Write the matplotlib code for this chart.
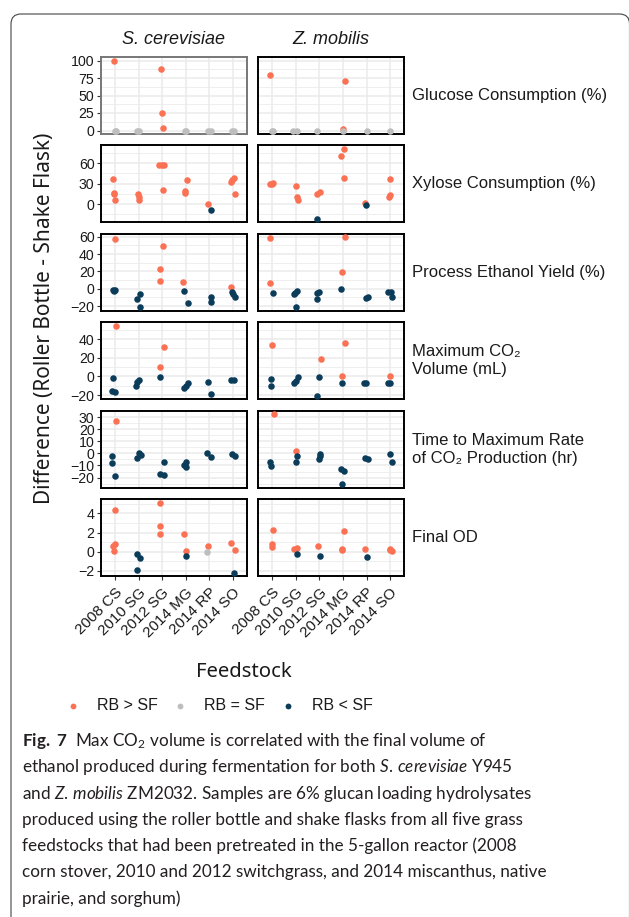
import matplotlib
matplotlib.use("Agg")
import matplotlib.pyplot as plt
from matplotlib.patches import FancyBboxPatch
from matplotlib.lines import Line2D
from matplotlib.ticker import FixedLocator

# ---------------------------------------------------------------- data
FEEDSTOCKS = ["2008 CS", "2010 SG", "2012 SG", "2014 MG", "2014 RP", "2014 SO"]
ORGANISMS = ["S. cerevisiae", "Z. mobilis"]
METRICS = ["Glucose Consumption (%)", "Xylose Consumption (%)",
           "Process Ethanol Yield (%)", "Maximum CO\u2082\nVolume (mL)",
           "Time to Maximum Rate\nof CO\u2082 Production (hr)", "Final OD"]
Y_TICKS = [[0, 25, 50, 75, 100], [0, 30, 60], [-20, 0, 20, 40, 60],
           [-20, 0, 20, 40], [-20, -10, 0, 10, 20, 30], [-2, 0, 2, 4]]
CLASS_ORDER = [">", "=", "<"]
CLASS_LABELS = {">": "RB > SF", "=": "RB = SF", "<": "RB < SF"}
CLASS_COLORS = {">": "#FB7153", "=": "#BEBEBE", "<": "#0B3C5A"}

# points: (feedstock number 1-6, difference RB - SF, class, horizontal jitter)
GLU_SC = [(1, 100, ">", -0.03), (1, 0, "=", 0.03), (1, 0, "=", 0.0),
          (2, 0, "=", -0.05), (2, 0, "=", 0.0),
          (3, 88.4, ">", -0.04), (3, 24.6, ">", 0.0), (3, 4.0, ">", 0.03),
          (4, 0, "=", -0.04), (4, 0, "=", 0.0),
          (5, 0, "=", -0.05), (5, 0, "=", 0.08),
          (6, 0, "=", -0.06), (6, 0, "=", 0.04)]
GLU_ZM = [(1, 78.7, ">", -0.07), (1, 0, "=", 0.0), (1, 0, "=", 0.02),
          (2, 0, "=", -0.1), (2, 0, "=", 0.05),
          (3, 0, "=", -0.08),
          (4, 71.0, ">", 0.07), (4, 1.5, ">", 0.0), (4, 0, "=", 0.0),
          (5, 0, "=", 0.0), (6, 0, "=", -0.03)]
XYL_SC = [(1, 37, ">", -0.07), (1, 17, ">", -0.05), (1, 15, ">", -0.02), (1, 5.5, ">", 0.0),
          (2, 15, ">", -0.01), (2, 11, ">", 0.0), (2, 6, ">", 0.02),
          (3, 57, ">", -0.13), (3, 57.5, ">", -0.02), (3, 57, ">", 0.09), (3, 21.4, ">", 0.02),
          (4, 35, ">", 0.07), (4, 19, ">", -0.04), (4, 16, ">", -0.02),
          (5, 0.6, ">", -0.08), (5, -8.9, "<", 0.08),
          (6, 38.6, ">", 0.04), (6, 35, ">", -0.03), (6, 32.7, ">", -0.1), (6, 15.4, ">", 0.09)]
XYL_ZM = [(1, 29, ">", -0.07), (1, 30, ">", 0.0), (1, 31, ">", 0.06),
          (2, 26.3, ">", 0.0), (2, 10.4, ">", 0.07), (2, 5.5, ">", 0.1),
          (3, 17.8, ">", 0.01), (3, 15.4, ">", -0.08), (3, -21.7, "<", -0.1),
          (4, 81, ">", 0.03), (4, 69.9, ">", -0.07), (4, 37.7, ">", 0.03),
          (5, 1.5, ">", -0.07), (5, -1, "<", -0.01),
          (6, 36.7, ">", 0.0), (6, 14, ">", 0.01), (6, 10.4, ">", -0.06)]
ETH_SC = [(1, 57.3, ">", -0.01), (1, -1, "<", -0.07), (1, -2, "<", 0.0), (1, -3, "<", -0.03),
          (2, -5.8, "<", 0.07), (2, -11.6, "<", -0.08), (2, -21.4, "<", 0.08),
          (3, 49.5, ">", 0.04), (3, 23.3, ">", -0.1), (3, 8.5, ">", -0.1),
          (4, 7.7, ">", -0.1), (4, -3.1, "<", -0.07), (4, -16, "<", 0.08),
          (5, -9, "<", 0.08), (5, -15.6, "<", 0.08),
          (6, 1.9, ">", -0.08), (6, -3.9, "<", -0.06), (6, -6, "<", 0.0), (6, -9.7, "<", 0.07)]
ETH_ZM = [(1, 58, ">", -0.07), (1, 7, ">", -0.1), (1, -5.4, "<", 0.03),
          (2, -3, "<", 0.07), (2, -5, "<", -0.03), (2, -6.6, "<", -0.09), (2, -21.4, "<", 0.0),
          (3, -3.9, "<", -0.03), (3, -4.5, "<", -0.12), (3, -11.6, "<", -0.1),
          (4, 59.3, ">", 0.07), (4, 19.4, ">", -0.04), (4, 0, "<", -0.07),
          (5, -9, "<", 0.06), (5, -10.5, "<", -0.01),
          (6, -3.9, "<", -0.1), (6, -3.9, "<", 0.04), (6, -9.7, "<", 0.07)]
CO2_SC = [(1, 54.3, ">", 0.04), (1, -1.8, "<", -0.1), (1, -15.3, "<", -0.11), (1, -17.1, "<", 0.0),
          (2, -3.5, "<", 0.04), (2, -6.4, "<", -0.08), (2, -10, "<", -0.1),
          (3, 31.8, ">", 0.06), (3, 9.6, ">", -0.11), (3, -1, "<", -0.11),
          (4, -7.5, "<", 0.08), (4, -10, "<", 0.03), (4, -12.5, "<", -0.06),
          (5, -6.4, "<", -0.05), (5, -18.9, "<", 0.05),
          (6, -3.9, "<", -0.07), (6, -3.9, "<", 0.04)]
CO2_ZM = [(1, 33.6, ">", 0.0), (1, -2.9, "<", -0.06), (1, -10.3, "<", -0.03),
          (2, -0.4, "<", 0.1), (2, -4.6, "<", 0.03), (2, -7.5, "<", -0.07),
          (3, 18.2, ">", 0.09), (3, -0.7, "<", -0.03), (3, -20.7, "<", -0.08),
          (4, 35.4, ">", 0.1), (4, 0.7, ">", -0.04), (4, -7.5, "<", -0.06),
          (5, -7.5, "<", -0.13), (5, -7.5, "<", -0.01),
          (6, 0.4, ">", 0.0), (6, -7.5, "<", -0.1), (6, -7.5, "<", 0.0)]
TIME_SC = [(1, 27, ">", 0.04), (1, -2, "<", -0.11), (1, -8.3, "<", -0.11), (1, -18.8, "<", -0.01),
           (2, 0, "<", 0.04), (2, -1, "<", 0.1), (2, -3.5, "<", -0.05),
           (3, -7, "<", 0.06), (3, -17.3, "<", -0.08), (3, -17.8, "<", 0.06),
           (4, -7, "<", 0.01), (4, -9.7, "<", -0.06), (4, -11.6, "<", 0.03),
           (5, 0, "<", -0.12), (5, -2.8, "<", 0.05),
           (6, -0.8, "<", -0.03), (6, -2, "<", 0.09)]
TIME_ZM = [(1, 32.5, ">", 0.07), (1, -7, "<", -0.07), (1, -10.2, "<", -0.06),
           (2, 1.9, ">", 0.0), (2, -2.2, "<", 0.07), (2, -7.5, "<", 0.0),
           (3, -0.8, "<", 0.04), (3, -2.2, "<", 0.01), (3, -5, "<", -0.01),
           (4, -13.2, "<", -0.1), (4, -14.6, "<", 0.03), (4, -25.4, "<", -0.03),
           (5, -4.1, "<", -0.06), (5, -5, "<", 0.07),
           (6, -0.8, "<", 0.0), (6, -7.4, "<", 0.07)]
OD_SC = [(1, 4.4, ">", -0.01), (1, 0.8, ">", 0.0), (1, 0.6, ">", -0.07), (1, 0.1, ">", -0.03),
         (2, -0.25, "<", -0.05), (2, -0.7, "<", 0.07), (2, -1.9, "<", -0.08),
         (3, 5.15, ">", -0.07), (3, 2.7, ">", -0.11), (3, 1.8, ">", -0.08),
         (4, 1.8, ">", -0.09), (4, 0.1, ">", 0.01), (4, -0.45, "<", 0.03),
         (5, 0.6, ">", -0.08), (5, 0, "=", -0.09),
         (6, 0.9, ">", -0.07), (6, 0.15, ">", 0.09), (6, -2.2, "<", 0.04)]
OD_ZM = [(1, 2.3, ">", 0.06), (1, 0.8, ">", 0.0), (1, 0.45, ">", 0.01),
         (2, 0.3, ">", -0.07), (2, 0.35, ">", 0.07), (2, -0.25, "<", 0.07),
         (3, 0.6, ">", -0.06), (3, -0.45, "<", 0.04),
         (4, 2.2, ">", 0.06), (4, 0.2, ">", -0.06), (4, 0.25, ">", -0.02),
         (5, 0.3, ">", -0.06), (5, -0.55, "<", 0.01),
         (6, 0.25, ">", 0.0), (6, 0.05, ">", 0.07), (6, 0.15, ">", -0.03)]

PANELS = [[GLU_SC, GLU_ZM], [XYL_SC, XYL_ZM], [ETH_SC, ETH_ZM],
          [CO2_SC, CO2_ZM], [TIME_SC, TIME_ZM], [OD_SC, OD_ZM]]

CAPTION = [
    r"$\mathbf{Fig.\ 7}$  Max CO$_2$ volume is correlated with the final volume of",
    r"ethanol produced during fermentation for both $\mathit{S.\,cerevisiae}$ Y945",
    r"and $\mathit{Z.\,mobilis}$ ZM2032. Samples are 6% glucan loading hydrolysates",
    "produced using the roller bottle and shake flasks from all five grass",
    "feedstocks that had been pretreated in the 5-gallon reactor (2008",
    "corn stover, 2010 and 2012 switchgrass, and 2014 miscanthus, native",
    "prairie, and sorghum)",
]

# ---------------------------------------------------------------- style
W, H, DPI = 629, 917, 100
AXFONT = ["Liberation Sans", "DejaVu Sans"]
TITLEFONT = ["Noto Sans", "DejaVu Sans"]
CAPFONT = "Lato"
plt.rcParams["font.family"] = AXFONT
plt.rcParams["mathtext.fontset"] = "custom"
plt.rcParams["mathtext.rm"] = CAPFONT
plt.rcParams["mathtext.it"] = CAPFONT + ":italic"
plt.rcParams["mathtext.bf"] = CAPFONT + ":bold"

fig = plt.figure(figsize=(W / DPI, H / DPI), dpi=DPI)

def fx(px):
    return px / W

def fy(py):
    return 1 - py / H

# outer rounded frame
fig.add_artist(FancyBboxPatch((11 / DPI, -0.3), (629.5 - 11) / DPI, (H - 14) / DPI + 0.3,
                              boxstyle="round,pad=0,rounding_size=0.1",
                              transform=fig.dpi_scale_trans, fill=False,
                              edgecolor="#444444", linewidth=0.8, clip_on=False))

COL_X = [100.7, 257.9]
PANEL_W = 146.5
ROW_TOP = [57, 145.4, 233.8, 322.2, 410.6, 499]
PANEL_H = 77

for r, row in enumerate(PANELS):
    allv = [p[1] for pan in row for p in pan]
    lo, hi = min(allv), max(allv)
    pad = 0.05 * (hi - lo)
    ticks = Y_TICKS[r]
    step = ticks[1] - ticks[0]
    minors = [ticks[0] - step / 2] + [(a + b) / 2 for a, b in zip(ticks[:-1], ticks[1:])] \
        + [ticks[-1] + step / 2]
    for c, pan in enumerate(row):
        ax = fig.add_axes([fx(COL_X[c]), fy(ROW_TOP[r] + PANEL_H), fx(PANEL_W), PANEL_H / H])
        ax.set_xlim(0.4, 6.6)
        ax.set_ylim(lo - pad, hi + pad)
        ax.set_axisbelow(True)
        ax.set_xticks(range(1, 7))
        ax.set_yticks(ticks)
        ax.yaxis.set_minor_locator(FixedLocator(minors))
        ax.grid(which="major", color="#EBEBEB", linewidth=1.1)
        ax.grid(which="minor", axis="y", color="#EBEBEB", linewidth=0.55)
        ax.tick_params(which="minor", length=0)
        ax.tick_params(which="major", length=3, width=0.8, color="#333333",
                       labelcolor="#1A1A1A")
        ax.tick_params(axis="y", labelsize=10.2, pad=1.5)
        ax.tick_params(axis="x", labelsize=11, pad=4)
        frame_col = "#777777" if (r == 0 and c == 0) else "black"
        for s in ax.spines.values():
            s.set_color(frame_col)
            s.set_linewidth(1.4)
        for cls in CLASS_ORDER:
            xs = [p[0] + p[3] for p in pan if p[2] == cls]
            ys = [p[1] for p in pan if p[2] == cls]
            ax.scatter(xs, ys, s=22, color=CLASS_COLORS[cls], linewidths=0, zorder=3)
        if c == 1:
            ax.tick_params(axis="y", left=False, labelleft=False)
        if r < 5:
            ax.tick_params(axis="x", bottom=False, labelbottom=False)
        else:
            ax.set_xticklabels(FEEDSTOCKS, rotation=45, ha="right",
                               rotation_mode="anchor")
        if r == 0:
            ax.set_title(ORGANISMS[c], fontsize=13, style="italic", pad=9,
                         color="#1A1A1A")
        if c == 1:
            ax.text(1.05, 0.5, METRICS[r], transform=ax.transAxes, ha="left",
                    va="center", fontsize=12, color="#1A1A1A", linespacing=1.25)

fig.text(fx(44.5), fy(318), "Difference (Roller Bottle - Shake Flask)", rotation=90,
         ha="center", va="center", fontsize=15, family=TITLEFONT, color="#1A1A1A")
fig.text(fx(244), fy(672), "Feedstock", ha="center", va="center", fontsize=14.6,
         family=TITLEFONT, color="#1A1A1A")

# legend (drawn manually so the spacing matches the reference)
LEG_DOT_X = [73, 180, 288]
LEG_Y = 706
for k, cls in enumerate(CLASS_ORDER):
    fig.add_artist(Line2D([fx(LEG_DOT_X[k])], [fy(LEG_Y)], transform=fig.transFigure,
                          linestyle="none", marker="o", markersize=4.2,
                          markerfacecolor=CLASS_COLORS[cls], markeredgewidth=0))
    fig.text(fx(LEG_DOT_X[k] + 24), fy(LEG_Y), CLASS_LABELS[cls], ha="left",
             va="center", fontsize=11.5, color="#1A1A1A")

for i, line in enumerate(CAPTION):
    fig.text(fx(22), fy(746 + 26.3 * i), line, ha="left", va="baseline",
             fontsize=12.3, family=CAPFONT, color="#231F20")

fig.savefig("out.png", dpi=DPI)
